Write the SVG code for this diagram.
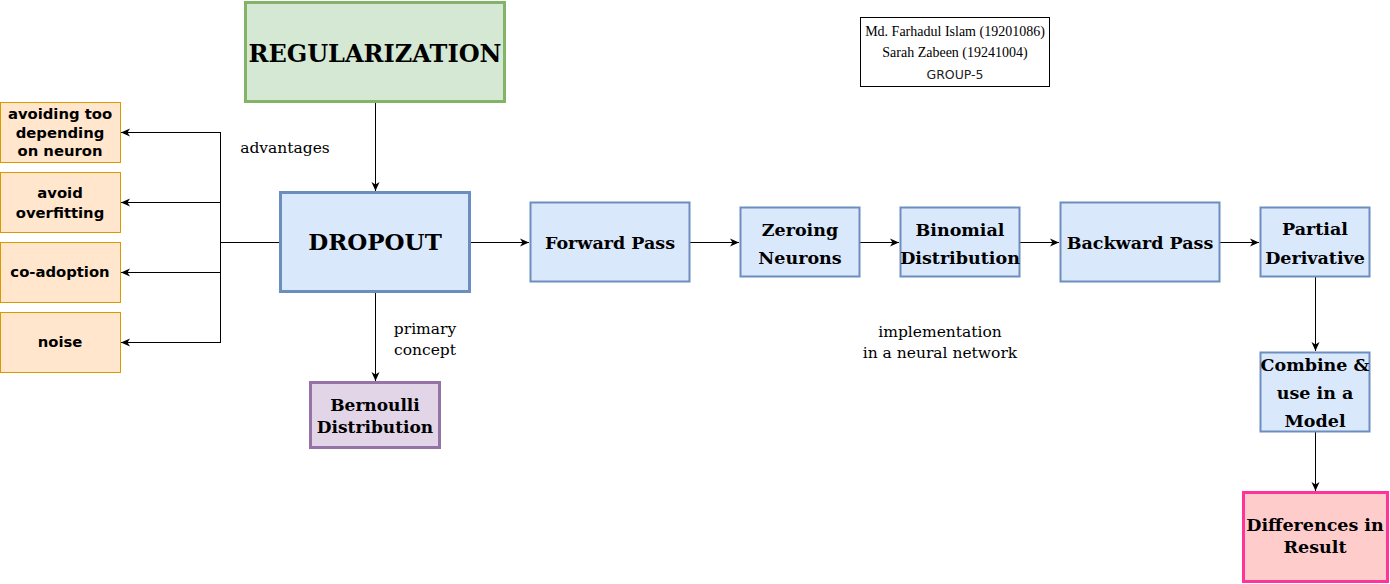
<svg xmlns="http://www.w3.org/2000/svg" width="1390" height="584" viewBox="0 0 1390 584">
<style>
.blue{fill:#dae8fc;stroke:#6c8ebf}
.org{fill:#ffe6cc;stroke:#d79b00;stroke-width:1}
.t{font-family:"DejaVu Serif","Liberation Serif",serif;font-weight:bold;fill:#000;text-anchor:middle;font-size:17.5px}
.s{font-family:"DejaVu Sans","Liberation Sans",sans-serif;font-weight:bold;font-size:14.8px;fill:#000;text-anchor:middle}
.lbl{font-family:"DejaVu Serif","Liberation Serif",serif;font-size:15.5px;fill:#000;text-anchor:middle}
.au{font-family:"Liberation Serif","DejaVu Serif",serif;font-size:14px;fill:#000;text-anchor:middle}
.c{fill:none;stroke:#000;stroke-width:1}
</style>
<defs>
<marker id="a" viewBox="0 0 10 10" refX="9" refY="5" markerWidth="10" markerHeight="10" markerUnits="userSpaceOnUse" orient="auto">
<path d="M0,1 L9,5 L0,9 L2.5,5 Z" fill="#000"/>
</marker>
</defs>
<rect width="1390" height="584" fill="#fff"/>
<g id="connectors">
<path class="c" d="M375.5,102 V191" marker-end="url(#a)"/>
<path class="c" d="M375.5,292 V381" marker-end="url(#a)"/>
<path class="c" d="M280,242.5 H220.5"/>
<path class="c" d="M220.5,132 V343"/>
<path class="c" d="M220.5,132.5 H121" marker-end="url(#a)"/>
<path class="c" d="M220.5,202.5 H121" marker-end="url(#a)"/>
<path class="c" d="M220.5,272.5 H121" marker-end="url(#a)"/>
<path class="c" d="M220.5,342.5 H121" marker-end="url(#a)"/>
<path class="c" d="M470,242.5 H529" marker-end="url(#a)"/>
<path class="c" d="M690,242.5 H739" marker-end="url(#a)"/>
<path class="c" d="M860,242.5 H899" marker-end="url(#a)"/>
<path class="c" d="M1020,242.5 H1059" marker-end="url(#a)"/>
<path class="c" d="M1220,242.5 H1259" marker-end="url(#a)"/>
<path class="c" d="M1315.5,277 V351" marker-end="url(#a)"/>
<path class="c" d="M1315.5,432 V491" marker-end="url(#a)"/>
</g>
<g id="labels">
<text class="lbl" x="285" y="153">advantages</text>
<text class="lbl" x="425" y="334">primary</text>
<text class="lbl" x="425" y="355">concept</text>
<text class="lbl" x="940" y="337">implementation</text>
<text class="lbl" x="940" y="358">in a neural network</text>
</g>
<g id="regularization">
<rect x="245.5" y="2.5" width="259" height="99" fill="#d5e8d4" stroke="#82b366" stroke-width="3"/>
<text class="t" x="375" y="62" style="font-size:24px">REGULARIZATION</text>
</g>
<g id="dropout">
<rect x="280.5" y="192.5" width="189" height="99" class="blue" stroke-width="3"/>
<text class="t" x="375" y="250" style="font-size:23px">DROPOUT</text>
</g>
<g id="bernoulli">
<rect x="310.5" y="382.5" width="129" height="65" fill="#e1d5e7" stroke="#9673a6" stroke-width="3"/>
<text class="t" x="375" y="411" style="font-size:17px">Bernoulli</text>
<text class="t" x="375" y="433" style="font-size:17px">Distribution</text>
</g>
<g id="forward">
<rect x="530.5" y="202.5" width="159" height="79" class="blue" stroke-width="2"/>
<text class="t" x="610" y="249">Forward Pass</text>
</g>
<g id="zeroing">
<rect x="740.5" y="207.5" width="119" height="69" class="blue" stroke-width="2"/>
<text class="t" x="800" y="236">Zeroing</text>
<text class="t" x="800" y="264">Neurons</text>
</g>
<g id="binomial">
<rect x="900.5" y="207.5" width="119" height="69" class="blue" stroke-width="2"/>
<text class="t" x="960" y="236">Binomial</text>
<text class="t" x="960" y="264">Distribution</text>
</g>
<g id="backward">
<rect x="1060.5" y="202.5" width="159" height="79" class="blue" stroke-width="2"/>
<text class="t" x="1140" y="249">Backward Pass</text>
</g>
<g id="partial">
<rect x="1260.5" y="207.5" width="109" height="69" class="blue" stroke-width="2"/>
<text class="t" x="1315" y="235">Partial</text>
<text class="t" x="1315" y="264">Derivative</text>
</g>
<g id="combine">
<rect x="1260.5" y="352.5" width="109" height="79" class="blue" stroke-width="2"/>
<text class="t" x="1315" y="371">Combine &amp;</text>
<text class="t" x="1315" y="399">use in a</text>
<text class="t" x="1315" y="427">Model</text>
</g>
<g id="differences">
<rect x="1243.5" y="492.5" width="144" height="89" fill="#ffcccc" stroke="#ff3399" stroke-width="3"/>
<text class="t" x="1315" y="531">Differences in</text>
<text class="t" x="1315" y="553">Result</text>
</g>
<g id="adv1">
<rect x="0.5" y="102.5" width="120" height="60" class="org"/>
<text class="s" x="60" y="119">avoiding too</text>
<text class="s" x="60" y="138">depending</text>
<text class="s" x="60" y="156">on neuron</text>
</g>
<g id="adv2">
<rect x="0.5" y="172.5" width="120" height="60" class="org"/>
<text class="s" x="60" y="198">avoid</text>
<text class="s" x="60" y="218">overfitting</text>
</g>
<g id="adv3">
<rect x="0.5" y="242.5" width="120" height="60" class="org"/>
<text class="s" x="60" y="277">co-adoption</text>
</g>
<g id="adv4">
<rect x="0.5" y="312.5" width="120" height="60" class="org"/>
<text class="s" x="60" y="347">noise</text>
</g>
<g id="authors">
<rect x="860.5" y="17.5" width="189" height="69" fill="#fff" stroke="#000" stroke-width="1"/>
<text class="au" x="955" y="36">Md. Farhadul Islam (19201086)</text>
<text class="au" x="955" y="57">Sarah Zabeen (19241004)</text>
<text x="955" y="79" font-family="DejaVu Sans,sans-serif" font-size="12.5" fill="#222" text-anchor="middle">GROUP-5</text>
</g>
</svg>
